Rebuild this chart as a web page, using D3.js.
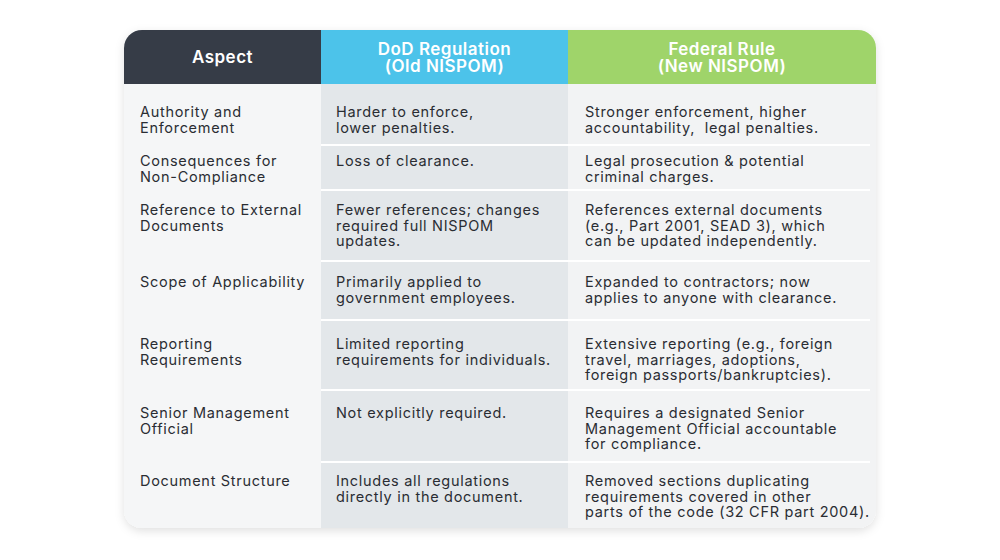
<!DOCTYPE html>
<meta charset="utf-8">
<script src="https://d3js.org/d3.v7.min.js"></script>
<style>body{margin:0;background:#fff}</style>
<div id="tbl"></div>
<script>
// table content
var headers = [["Aspect"], ["DoD Regulation", "(Old NISPOM)"], ["Federal Rule", "(New NISPOM)"]];
var aspects = [
  ["Authority and", "Enforcement"],
  ["Consequences for", "Non-Compliance"],
  ["Reference to External", "Documents"],
  ["Scope of Applicability"],
  ["Reporting", "Requirements"],
  ["Senior Management", "Official"],
  ["Document Structure"]
];
var oldRule = [
  ["Harder to enforce,", "lower penalties."],
  ["Loss of clearance."],
  ["Fewer references; changes", "required full NISPOM", "updates."],
  ["Primarily applied to", "government employees."],
  ["Limited reporting", "requirements for individuals."],
  ["Not explicitly required."],
  ["Includes all regulations", "directly in the document."]
];
var newRule = [
  ["Stronger enforcement, higher", "accountability,  legal penalties."],
  ["Legal prosecution & potential", "criminal charges."],
  ["References external documents", "(e.g., Part 2001, SEAD 3), which", "can be updated independently."],
  ["Expanded to contractors; now", "applies to anyone with clearance."],
  ["Extensive reporting (e.g., foreign", "travel, marriages, adoptions,", "foreign passports/bankruptcies)."],
  ["Requires a designated Senior", "Management Official accountable", "for compliance."],
  ["Removed sections duplicating", "requirements covered in other", "parts of the code (32 CFR part 2004)."]
];

// layout
var W = 1000, H = 560;
var colX = [124, 321, 568, 876];
var tableTop = 30, headBottom = 84;
var rowEdges = [84, 145, 190, 261, 320, 390, 462, 528];
var textTop = [112, 161, 210, 282, 344, 413, 481];
var headFill = ["#363c47", "#4cc3ea", "#9fd46a"];
var bodyFill = ["#f5f6f7", "#e3e7ea", "#f2f3f4"];
var textX = [140, 336, 585];
var lineH = 15.5;
var font = "Inter, 'Open Sans', sans-serif";

var svg = d3.select("#tbl").append("svg").attr("width", W).attr("height", H);
var defs = svg.append("defs");
var f = defs.append("filter").attr("id", "sh").attr("x", "-5%").attr("y", "-5%").attr("width", "110%").attr("height", "115%");
f.append("feDropShadow").attr("dx", 0).attr("dy", 3).attr("stdDeviation", 5).attr("flood-color", "#000").attr("flood-opacity", 0.12);
defs.append("clipPath").attr("id", "clip").append("rect")
  .attr("x", colX[0]).attr("y", tableTop).attr("width", colX[3] - colX[0]).attr("height", rowEdges[7] - tableTop)
  .attr("rx", 18);

svg.append("rect")
  .attr("x", colX[0]).attr("y", tableTop).attr("width", colX[3] - colX[0]).attr("height", rowEdges[7] - tableTop)
  .attr("rx", 18).attr("fill", "#f5f6f7").attr("filter", "url(#sh)");

var g = svg.append("g").attr("clip-path", "url(#clip)");
[0, 1, 2].forEach(function(c) {
  g.append("rect").attr("x", colX[c]).attr("y", tableTop).attr("width", colX[c + 1] - colX[c]).attr("height", headBottom - tableTop).attr("fill", headFill[c]);
  g.append("rect").attr("x", colX[c]).attr("y", headBottom).attr("width", colX[c + 1] - colX[c]).attr("height", rowEdges[7] - headBottom).attr("fill", bodyFill[c]);
});

// row separators in value columns
g.selectAll("line.sep").data(rowEdges.slice(1, 7)).enter().append("line")
  .attr("x1", colX[1]).attr("x2", colX[3] - 6).attr("y1", function(d) { return d; }).attr("y2", function(d) { return d; })
  .attr("stroke", "#ffffff").attr("stroke-width", 2);

// headers
headers.forEach(function(h, c) {
  var cx = (colX[c] + colX[c + 1]) / 2;
  var y0 = (tableTop + headBottom) / 2 - (h.length - 1) * 8.5 + 6;
  h.forEach(function(t, i) {
    svg.append("text").attr("x", cx).attr("y", y0 + i * 17).attr("text-anchor", "middle")
      .attr("font-family", font).attr("font-weight", 600).attr("font-size", 17).attr("letter-spacing", 0.5)
      .attr("fill", "#fff").text(t);
  });
});

// body
[aspects, oldRule, newRule].forEach(function(col, c) {
  col.forEach(function(lines, r) {
    lines.forEach(function(t, i) {
      svg.append("text").attr("x", textX[c]).attr("y", textTop[r] + 5 + i * lineH)
        .attr("font-family", font).attr("font-size", 14.5).attr("letter-spacing", 0.7).attr("fill", "#2a2d33")
        .attr("xml:space", "preserve").text(t);
    });
  });
});
</script>
